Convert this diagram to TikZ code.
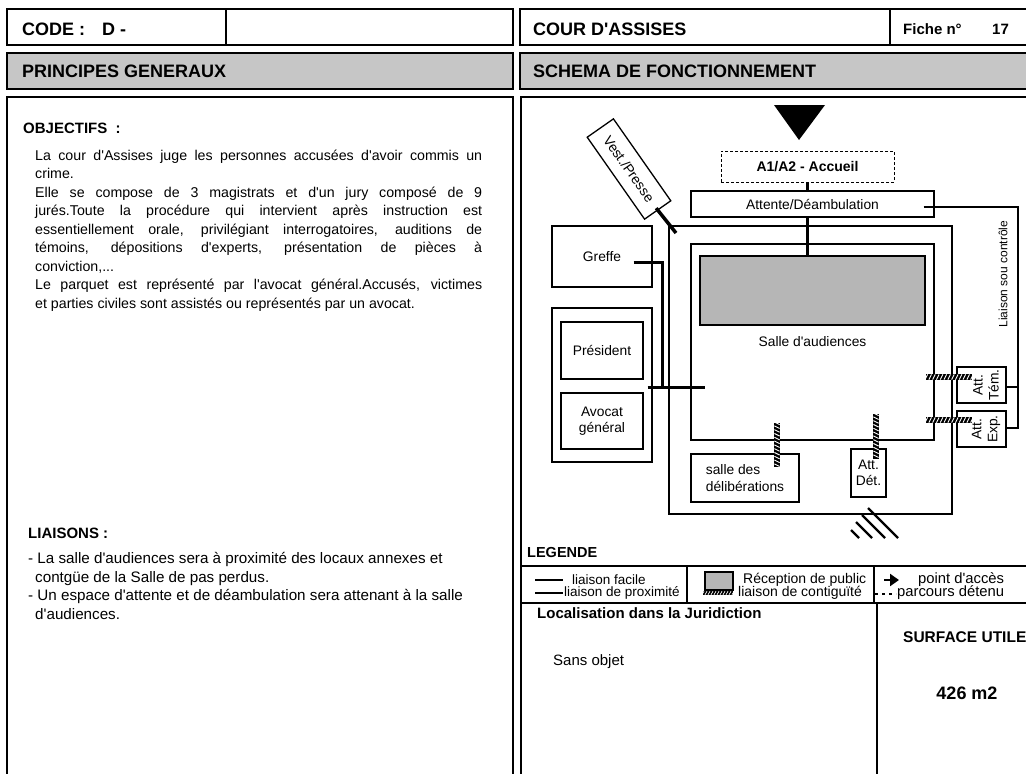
\documentclass[tikz,border=0pt]{standalone}
\usepackage{fontspec}
\setmainfont{Liberation Sans}
\usetikzlibrary{arrows.meta,decorations.markings}
\definecolor{hdrgray}{HTML}{C6C6C6}
\definecolor{recgray}{HTML}{B6B6B6}
\newcommand\fsz[2]{\fontsize{#1}{#2}\selectfont}
\newcommand\ap{\textquotesingle}
\begin{document}
\begin{tikzpicture}[x=1pt,y=-1pt,
  frame/.style={draw, line width=1.4pt},
  room/.style={draw, line width=1.3pt, inner sep=0pt, font=\fsz{13.8}{16.5}, align=center},
  prox/.style={line width=3pt},
  ctrl/.style={line width=2.4pt},
  facile/.style={line width=1.3pt},
  rope/.style={line width=6pt, postaction={decorate, decoration={markings,
      mark=between positions 0 and 1 step 3.8pt with {\draw[white, line width=0.9pt] (-1.3pt,-2.6pt) -- (1.3pt,2.6pt);}}}},
  ropesm/.style={line width=4pt, postaction={decorate, decoration={markings,
      mark=between positions 0 and 1 step 3pt with {\draw[white, line width=0.7pt] (-1pt,-1.7pt) -- (1pt,1.7pt);}}}},
  lbl/.style={inner sep=0pt, anchor=west},
  hdr/.style={lbl, font=\bfseries\fsz{18}{20}},
  lgdA/.style={lbl, font=\fsz{13.5}{15}},
  lgdB/.style={lbl, font=\fsz{14}{15}},
  lgdC/.style={lbl, font=\fsz{14.8}{16}}
]
\useasboundingbox (0,0) rectangle (1026,774);
\fill[white] (0,0) rectangle (1026,774);

% ---------- frames ----------
\draw[frame] (7,9) rectangle (513,45);
\draw[frame] (226,9) -- (226,45);
\draw[frame] (520,9) rectangle (1040,45);
\draw[frame] (890,9) -- (890,45);
\filldraw[frame, fill=hdrgray] (7,53) rectangle (513,89);
\filldraw[frame, fill=hdrgray] (520,53) rectangle (1040,89);
\draw[frame] (7,97) rectangle (513,790);
\draw[frame] (521,97) rectangle (1040,790);

% ---------- header texts ----------
\node[hdr] (code) at (22,29) {CODE :\hspace{17pt}D -};
\node[hdr] (cour) at (533,29) {COUR D\ap ASSISES};
\node[lbl, font=\bfseries\fsz{15}{17}] (fiche) at (903,29) {Fiche n°};
\node[lbl, font=\bfseries\fsz{15}{17}] (num) at (992,29) {17};
\node[hdr] (pg) at (22,71) {PRINCIPES GENERAUX};
\node[hdr] (sf) at (533,71) {SCHEMA DE FONCTIONNEMENT};

% ---------- left panel ----------
\node[lbl, font=\bfseries\fsz{15}{17}] (objt) at (23,128) {OBJECTIFS\; :};
\node[anchor=north west, inner sep=0pt, align=left, font=\fsz{14.2}{18.5}] (obj) at (35,149.5) {%
\makebox[447pt][s]{La cour d\ap Assises juge les personnes accusées d\ap avoir commis un}\\
crime.\\
\makebox[447pt][s]{Elle se compose de 3 magistrats et d\ap un jury composé de 9}\\
\makebox[447pt][s]{jurés.Toute la procédure qui intervient après instruction est}\\
\makebox[447pt][s]{essentiellement orale, privilégiant interrogatoires, auditions de}\\
\makebox[447pt][s]{témoins, dépositions d\ap experts, présentation de pièces à}\\
conviction,...\\
\makebox[447pt][s]{Le parquet est représenté par l\ap avocat général.Accusés, victimes}\\
et parties civiles sont assistés ou représentés par un avocat.};

\node[lbl, font=\bfseries\fsz{15}{17}] (liat) at (28,533) {LIAISONS :};
\node[anchor=north west, inner sep=0pt, align=left, font=\fsz{15.2}{18.7}] (lia) at (28,552) {%
- La salle d\ap audiences sera à proximité des locaux annexes et\\
\hspace*{7pt}contgüe de la Salle de pas perdus.\\
- Un espace d\ap attente et de déambulation sera attenant à la salle\\
\hspace*{7pt}d\ap audiences.};

% ---------- diagram ----------
\fill (774,105) -- (825,105) -- (799,140) -- cycle;

\node[room, line width=1pt, dash pattern=on 3pt off 2pt, minimum width=173pt, minimum height=31pt,
      font=\bfseries\fsz{14}{16}] (accueil) at (807.5,166.5) {A1/A2 - Accueil};
\node[room, minimum width=243pt, minimum height=26pt] (attente) at (812.5,204) {Attente/Déambulation};
\node[room, minimum width=283pt, minimum height=288pt] (corridor) at (810.5,370) {};
\node[room, minimum width=243pt, minimum height=196pt] (salle) at (812.5,342) {Salle d\ap audiences};
\node[room, fill=recgray, minimum width=225pt, minimum height=69pt] (reception) at (812.5,290.5) {};
\node[room, minimum width=100pt, minimum height=61pt] (greffe) at (602,256.5) {Greffe};
\node[room, minimum width=100pt, minimum height=154pt] (presgroup) at (602,385) {};
\node[room, minimum width=82pt, minimum height=57pt] (president) at (602,350.5) {Président};
\node[room, minimum width=82pt, minimum height=56pt] (avocat) at (602,421) {Avocat\\général};
\node[room, minimum width=108pt, minimum height=48pt, align=left] (delib) at (745,478) {salle des\\délibérations};
\node[room, minimum width=35pt, minimum height=48pt] (attdet) at (868.5,473) {Att.\\Dét.};
\node[room, minimum width=49pt, minimum height=36pt] (atttem) at (981.5,385) {};
\node[rotate=90, inner sep=0pt, align=center, font=\fsz{13.8}{16}] (atttemt) at (986,385) {Att.\\Tém.};
\node[room, minimum width=49pt, minimum height=36pt] (attexp) at (981.5,429) {};
\node[rotate=90, inner sep=0pt, align=center, font=\fsz{13.8}{16}] (attexpt) at (986,429) {Att.\\Exp.};
\node[room, minimum width=100pt, minimum height=32pt, rotate=-55] (vest) at (629,169) {Vest./Presse};

% connectors (proximity)
\coordinate (vestend) at (676,233);
\draw[prox, line width=3.5pt, shorten <=-3pt] (vest.east) -- (vestend);
\draw[prox] (accueil.south) -- (accueil.south |- attente.north);
\draw[prox] (accueil.south |- attente.south) -- (accueil.south |- reception.north);
\coordinate (gj) at (662,387);
\draw[prox] ([shift={(-19,5.5)}]greffe.east) -| (gj);
\draw[prox] ([shift={(-5,2)}]presgroup.east) -- ([shift={(15,2)}]salle.west |- presgroup.east);

% liaison sous controle
\coordinate (lsc1) at (1018,207);
\coordinate (lsc2) at (1018,428);
\draw[ctrl] ([shift={(-11,3)}]attente.east) -- (lsc1) -- (lsc2) -- (attexp.east |- lsc2);
\draw[ctrl] ([yshift=-2]atttem.east) -- ([yshift=-2]atttem.east -| lsc1);
\node[rotate=90, inner sep=0pt, font=\fsz{12}{14}] (lsclbl) at (1003,274) {Liaison sou contrôle};

% contiguity
\draw[rope] ([shift={(32,-30)}]delib.north) -- ([shift={(32,14)}]delib.north);
\draw[rope] ([shift={(7.5,-34)}]attdet.north) -- ([shift={(7.5,11)}]attdet.north);
\draw[rope] ([shift={(-30,-8)}]atttem.west) -- ([shift={(16,-8)}]atttem.west);
\draw[rope] ([shift={(-30,-9)}]attexp.west) -- ([shift={(16,-9)}]attexp.west);

% exit hatch
\draw[line width=2.2pt] (868,508) -- (898,538);
\draw[line width=2.2pt] (862,515) -- (885,538);
\draw[line width=2.2pt] (856,522) -- (872,538);
\draw[line width=2.2pt] (851,530) -- (859,538);

% ---------- legend ----------
\node[lbl, font=\bfseries\fsz{14.5}{16}] (legt) at (527,553) {LEGENDE};
\draw[frame, line width=1.2pt] (521,566) -- (1040,566);
\draw[frame, line width=1.2pt] (521,603) -- (1040,603);
\draw[frame, line width=1.2pt] (687,566) -- (687,603);
\draw[frame, line width=1.2pt] (874,566) -- (874,603);
\draw[frame, line width=1.2pt] (877,603) -- (877,790);

\coordinate (lf1) at (535,580); \coordinate (lf2) at (563,580);
\draw[facile] (lf1) -- (lf2);
\node[lgdA] (lft) at (572,580) {liaison facile};
\coordinate (lp1) at (535,593); \coordinate (lp2) at (563,593);
\draw[line width=2.5pt] (lp1) -- (lp2);
\node[lgdA] (lpt) at (564,593) {liaison de proximité};
\node[draw, line width=1.2pt, fill=recgray, minimum width=28pt, minimum height=18pt, inner sep=0pt] (lrec) at (719,581) {};
\node[lgdB] (lrect) at (743,580) {Réception de public};
\coordinate (lc1) at (703,593); \coordinate (lc2) at (733,593);
\draw[ropesm] (lc1) -- (lc2);
\node[lgdB] (lct) at (738,593) {liaison de contiguïté};
\coordinate (la1) at (884,580); \coordinate (la2) at (899,580);
\draw[line width=2.5pt, -{Triangle[length=9pt, width=12pt]}] (la1) -- (la2);
\node[lgdC] (lat) at (918,580) {point d\ap accès};
\coordinate (ld1) at (875,594); \coordinate (ld2) at (896,594);
\draw[line width=1.3pt, dash pattern=on 3pt off 4pt] (ld1) -- (ld2);
\node[lgdC] (ldt) at (897,593) {parcours détenu};

% ---------- bottom ----------
\node[lbl, font=\bfseries\fsz{15}{17}] (loct) at (537,613) {Localisation dans la Juridiction};
\node[lbl, font=\fsz{15}{17}] (sans) at (553,662) {Sans objet};
\node[lbl, font=\bfseries\fsz{15.5}{18}] (surf) at (903,637) {SURFACE UTILE};
\node[inner sep=0pt, font=\bfseries\fsz{18}{20}] (m2) at (967,693) {426 m2};
\end{tikzpicture}
\end{document}
